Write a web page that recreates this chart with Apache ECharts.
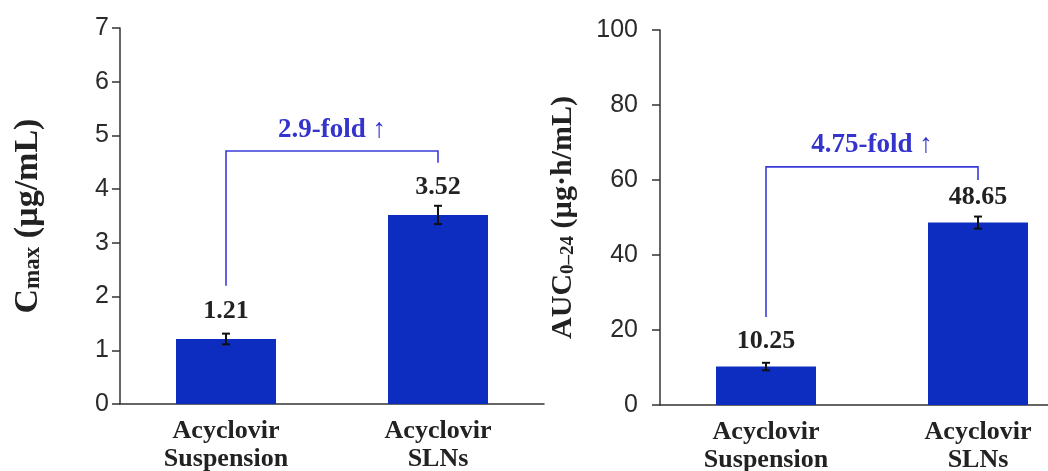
<!DOCTYPE html>
<html><head><meta charset="utf-8">
<script src="https://cdn.jsdelivr.net/npm/echarts@6/dist/echarts.min.js"></script>
<style>html,body{margin:0;padding:0;background:#fff}#c{width:1048px;height:471px}</style>
</head><body><div id="c"></div>
<script>
// ---- data ----
const categories = ['Acyclovir\nSuspension', 'Acyclovir\nSLNs'];
const cmaxValues = [1.21, 3.52];
const cmaxErrors = [0.1, 0.17];
const aucValues = [10.25, 48.65];
const aucErrors = [1.0, 1.6];
const cmaxTicks = [0, 1, 2, 3, 4, 5, 6, 7];
const aucTicks = [0, 20, 40, 60, 80, 100];
// bracket: [left leg bottom, top bar, right leg bottom]
const cmaxBracket = [2.2, 4.71, 4.49];
const aucBracket = [23.5, 63.5, 60];
const cmaxFoldText = '2.9-fold ↑';
const cmaxFoldY = [5.1];
const aucFoldText = '4.75-fold ↑';
const aucFoldY = [69.3];

const serif = '"Liberation Serif", "Times New Roman", serif';
const sans = '"Liberation Sans", Arial, sans-serif';
const barColor = '#0c2dbf';
const blue = '#3b3bdc';
const dark = '#222';

function errData(vals, errs) { return vals.map((v, i) => [i, v, errs[i]]); }
function errRender(params, api) {
  const i = api.value(0), v = api.value(1), e = api.value(2);
  const x = api.coord([i, v])[0];
  const yt = api.coord([i, v + e])[1];
  const yb = api.coord([i, v - e])[1];
  const st = { stroke: '#111', lineWidth: 2 };
  return { type: 'group', children: [
    { type: 'line', shape: { x1: x, y1: yt, x2: x, y2: yb }, style: st },
    { type: 'line', shape: { x1: x - 4, y1: yt, x2: x + 4, y2: yt }, style: st },
    { type: 'line', shape: { x1: x - 4, y1: yb, x2: x + 4, y2: yb }, style: st }
  ]};
}
function bracketRender(br, txt, ty) {
  return function (params, api) {
    const p0 = api.coord([0, br[0]]), p1 = api.coord([0, br[1]]);
    const p2 = api.coord([1, br[1]]), p3 = api.coord([1, br[2]]);
    const mid = (p1[0] + p2[0]) / 2;
    const yt = api.coord([0, ty[0]])[1];
    return { type: 'group', children: [
      { type: 'polyline', shape: { points: [p0, p1, p2, p3] },
        style: { stroke: blue, lineWidth: 1.6, fill: null } },
      { type: 'text', x: mid, y: yt,
        style: { text: txt, fill: '#3434cc', fontFamily: serif, fontWeight: 'bold',
                 fontSize: 27, align: 'center', verticalAlign: 'middle' } }
    ]};
  };
}

const axisLineStyle = { lineStyle: { color: '#333', width: 1.5 } };
function xAxisDef(idx) {
  return {
    type: 'category', gridIndex: idx, data: categories,
    axisLine: axisLineStyle, axisTick: { show: false },
    axisLabel: { interval: 0, fontFamily: serif, fontWeight: 'bold', fontSize: 26,
                 color: dark, lineHeight: 28, margin: 13 }
  };
}
function yAxisDef(idx, ticks, name, rich, gap, margin) {
  return {
    type: 'value', gridIndex: idx,
    min: ticks[0], max: ticks[ticks.length - 1], interval: ticks[1] - ticks[0],
    splitLine: { show: false },
    axisLine: { show: true, lineStyle: { color: '#333', width: 1.5 } },
    axisTick: { show: true, length: 8, lineStyle: { color: '#333', width: 1.5 } },
    axisLabel: { fontFamily: sans, fontSize: 25, color: '#2a2a2a', margin: margin },
    name: name, nameLocation: 'middle', nameRotate: 90, nameGap: gap,
    nameTextStyle: { rich: rich }
  };
}

const chart = echarts.init(document.getElementById('c'));
chart.setOption({
  animation: false,
  backgroundColor: '#ffffff',
  grid: [
    { left: 120, top: 28, width: 424, height: 376, outerBoundsMode: 'none' },
    { left: 660, top: 30, width: 424, height: 375, outerBoundsMode: 'none' }
  ],
  xAxis: [xAxisDef(0), xAxisDef(1)],
  yAxis: [
    yAxisDef(0, cmaxTicks, '{m|C}{s|max}{m| (µg/mL)}', {
      m: { fontFamily: serif, fontWeight: 'bold', fontSize: 34, color: dark },
      s: { fontFamily: serif, fontWeight: 'bold', fontSize: 23, color: dark, verticalAlign: 'bottom' }
    }, 75, 11),
    yAxisDef(1, aucTicks, '{m|AUC}{s|0–24}{m| (µg·h/mL)}', {
      m: { fontFamily: serif, fontWeight: 'bold', fontSize: 30, color: dark },
      s: { fontFamily: serif, fontWeight: 'bold', fontSize: 19, color: dark, verticalAlign: 'bottom' }
    }, 82, 22)
  ],
  series: [
    { type: 'bar', xAxisIndex: 0, yAxisIndex: 0, data: cmaxValues, barWidth: 100,
      itemStyle: { color: barColor },
      label: { show: true, position: 'top', distance: 15, fontFamily: serif, fontWeight: 'bold',
               fontSize: 26, color: dark } },
    { type: 'bar', xAxisIndex: 1, yAxisIndex: 1, data: aucValues, barWidth: 100,
      itemStyle: { color: barColor },
      label: { show: true, position: 'top', distance: 12, fontFamily: serif, fontWeight: 'bold',
               fontSize: 26, color: dark } },
    { type: 'custom', xAxisIndex: 0, yAxisIndex: 0, data: errData(cmaxValues, cmaxErrors),
      renderItem: errRender, z: 5 },
    { type: 'custom', xAxisIndex: 1, yAxisIndex: 1, data: errData(aucValues, aucErrors),
      renderItem: errRender, z: 5 },
    { type: 'custom', xAxisIndex: 0, yAxisIndex: 0, data: [[0, cmaxBracket[1]]],
      renderItem: bracketRender(cmaxBracket, cmaxFoldText, cmaxFoldY), z: 6 },
    { type: 'custom', xAxisIndex: 1, yAxisIndex: 1, data: [[0, aucBracket[1]]],
      renderItem: bracketRender(aucBracket, aucFoldText, aucFoldY), z: 6 }
  ]
});
</script>
</body></html>
